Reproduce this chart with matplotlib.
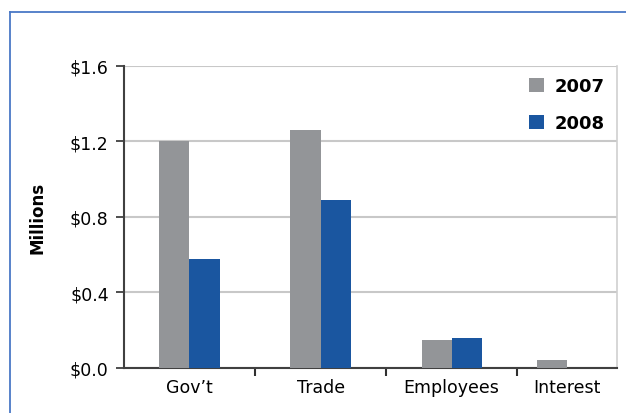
import numpy as np
import matplotlib.pyplot as plt
from matplotlib.lines import Line2D
from matplotlib.patches import Patch

# revenue by source, millions of dollars
categories = ["Gov\u2019t", "Trade", "Employees", "Interest"]
values_2007 = [1.20, 1.26, 0.15, 0.04]
values_2008 = [0.58, 0.89, 0.16, 0.0]
yticks = [0.0, 0.4, 0.8, 1.2, 1.6]
ytick_labels = ["$0.0", "$0.4", "$0.8", "$1.2", "$1.6"]

gray = "#939598"
blue = "#1a56a0"

plt.rcParams['font.family'] = ['DejaVu Sans']

fig = plt.figure(figsize=(6.26, 4.14), dpi=100)
ax = fig.add_axes([0.198, 0.1087, 0.788, 0.7295])

# plot area is cut short on the right, so the last group sits in what is left
xmax = 3.263
xpos = np.arange(len(categories), dtype=float)
xpos[-1] = (2.5 + xmax) / 2
w = 0.23
ax.bar(xpos - w/2, values_2007, width=w, color=gray, zorder=3)
ax.bar(xpos + w/2, values_2008, width=w, color=blue, zorder=3)

ax.set_xlim(-0.5, xmax)
ax.set_ylim(0, 1.6)
ax.set_yticks(yticks)
ax.set_yticklabels(ytick_labels, fontsize=12.5)
ax.yaxis.grid(True, color='#c8c8c8', lw=1.5, zorder=0)

# category labels in the middle, tick marks on the boundaries
ax.set_xticks(xpos)
ax.set_xticklabels(categories, fontsize=12.5)
ax.tick_params(axis='x', length=0, pad=7)
ax.set_xticks([0.5, 1.5, 2.5], minor=True)
ax.tick_params(axis='x', which='minor', length=6, width=1.5, color='#303030')
ax.tick_params(axis='y', length=6, width=1.2, color='#303030', pad=5)

for s in ['left', 'bottom']:
    ax.spines[s].set_color('#404040')
    ax.spines[s].set_linewidth(1.5)
for s in ['top', 'right']:
    ax.spines[s].set_color('#d0d0d0')
    ax.spines[s].set_linewidth(1.2)
ax.spines['top'].set_visible(False)

ax.set_ylabel('Millions', fontsize=12, weight='bold', labelpad=17)

legend_elements = [Patch(facecolor=gray, label='2007'),
                   Patch(facecolor=blue, label='2008')]
leg = ax.legend(handles=legend_elements, loc='upper right', frameon=False,
                prop={'weight': 'bold', 'size': 13}, handlelength=0.8,
                handleheight=0.8, handletextpad=0.6, labelspacing=1.05,
                bbox_to_anchor=(1.0, 1.005), borderaxespad=0.3)
leg.set_zorder(5)

# blue frame around the figure
fig.add_artist(Line2D([10/626, 10/626], [0, 1 - 13/414], color='#4a78c6', lw=1.3))
fig.add_artist(Line2D([10/626, 1], [1 - 13/414, 1 - 13/414], color='#4a78c6', lw=1.3))

plt.savefig('out.png', dpi=100)
